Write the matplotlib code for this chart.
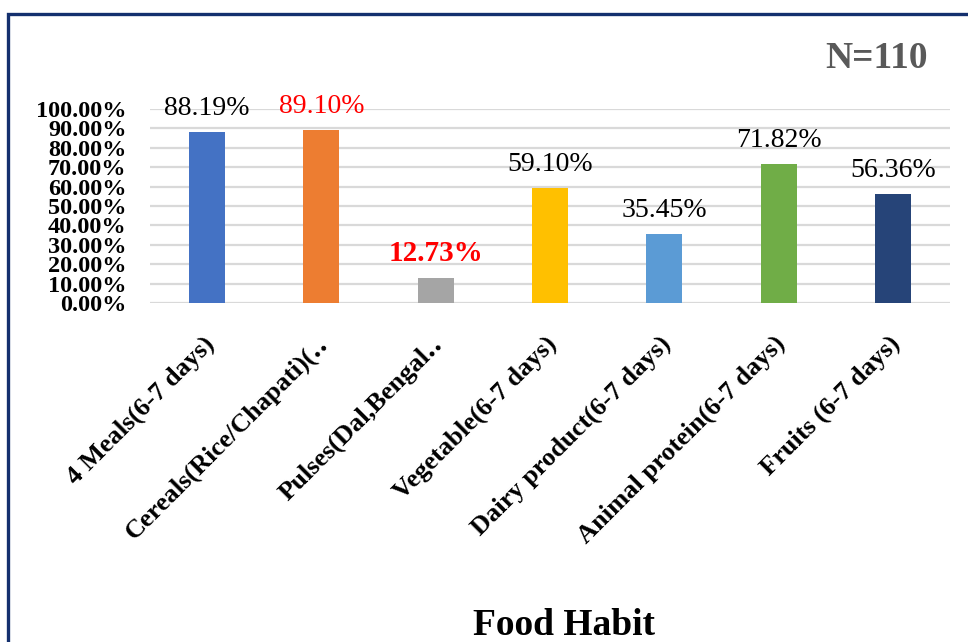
import matplotlib
matplotlib.use("Agg")
import matplotlib.pyplot as plt
from matplotlib.ticker import FuncFormatter, MultipleLocator
from matplotlib.transforms import ScaledTranslation
from matplotlib.patches import Rectangle

categories = ["4 Meals(6-7 days)", "Cereals(Rice/Chapati)(‥", "Pulses(Dal,Bengal‥",
              "Vegetable(6-7 days)", "Dairy product(6-7 days)", "Animal protein(6-7 days)",
              "Fruits (6-7 days)"]
values = [88.19, 89.10, 12.73, 59.10, 35.45, 71.82, 56.36]
labels = ["88.19%", "89.10%", "12.73%", "59.10%", "35.45%", "71.82%", "56.36%"]
label_colors = ["black", "red", "red", "black", "black", "black", "black"]
label_weights = ["normal", "normal", "bold", "normal", "normal", "normal", "normal"]
bar_colors = ["#4472C4", "#ED7D31", "#A5A5A5", "#FFC000", "#5B9BD5", "#70AD47", "#264478"]

SERIF = ["Liberation Serif", "DejaVu Serif"]
plt.rcParams['font.family'] = SERIF

W, H, DPI = 968, 642, 100
fig = plt.figure(figsize=(W / DPI, H / DPI), dpi=DPI)
ax = fig.add_axes([150 / W, 1 - 303 / H, 800 / W, 194 / H])

x = list(range(len(categories)))
ax.bar(x, values, width=0.315, color=bar_colors, zorder=3)
ax.set_xlim(-0.5, len(categories) - 0.5)
ax.set_ylim(0, 100)
ax.yaxis.set_major_locator(MultipleLocator(10))
ax.yaxis.set_major_formatter(FuncFormatter(lambda v, p: f"{v:.2f}%"))
ax.grid(axis='y', color='#D9D9D9', linewidth=1.6, zorder=0)
ax.set_axisbelow(True)
for s in ax.spines.values():
    s.set_visible(False)
ax.tick_params(axis='y', length=0, pad=17)
ax.tick_params(axis='x', length=0, pad=21)
for t in ax.get_yticklabels():
    t.set_fontsize(17.5)
    t.set_fontweight('bold')

ax.set_xticks(x)
ax.set_xticklabels(categories, rotation=45, ha='right', va='top',
                   rotation_mode='anchor', fontsize=19, fontweight='bold')
off = ScaledTranslation(-5 / DPI, 0, fig.dpi_scale_trans)
for t in ax.get_xticklabels():
    t.set_transform(t.get_transform() + off)

pt_off = ScaledTranslation(0, 17 / DPI, fig.dpi_scale_trans)
for xi, v, lab, c, w in zip(x, values, labels, label_colors, label_weights):
    ax.text(xi, v, lab, ha='center', va='baseline', fontsize=(21 if w == 'bold' else 20),
            color=c, fontweight=w, transform=ax.transData + pt_off, zorder=4)

fig.text(928 / W, 1 - 68 / H, "N=110", ha='right', va='baseline', fontsize=27,
         fontweight='bold', color='#595959')
fig.text(564 / W, 1 - 635 / H, "Food Habit", ha='center', va='baseline', fontsize=27,
         fontweight='bold', color='black')

fig.patches.append(Rectangle((8 / W, -0.1), 1.2, 1 - 14 / H + 0.1, transform=fig.transFigure,
                             fill=False, edgecolor='#14306E', linewidth=2.4))

fig.savefig("out.png", dpi=DPI)
